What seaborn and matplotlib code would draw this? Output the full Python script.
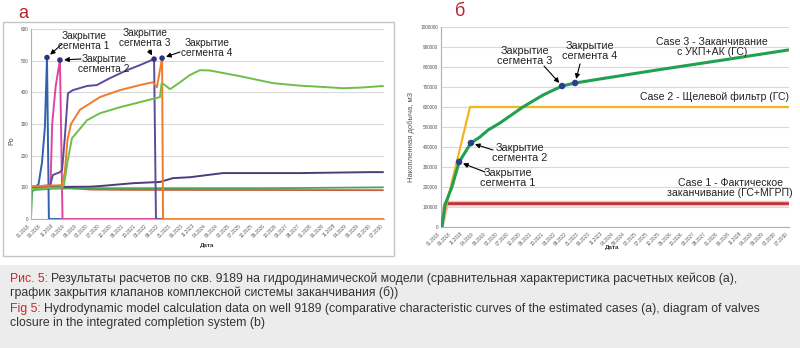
import matplotlib
matplotlib.use("Agg")
import matplotlib.pyplot as plt
from matplotlib.patches import Rectangle
import numpy as np
import pandas as pd
import seaborn as sns

sns.set_theme(style="white")
plt.rcParams['font.family'] = ['Liberation Sans', 'DejaVu Sans']

W, H = 800, 348

# ---- shared time axis: months since 01.2018 ----
x_tick_months = list(range(0, 151, 5))
x_tick_labels = ["01.2018", "06.2018", "11.2018", "04.2019", "09.2019", "02.2020",
                 "07.2020", "12.2020", "05.2021", "10.2021", "03.2022", "08.2022",
                 "01.2023", "06.2023", "11.2023", "04.2024", "09.2024", "02.2025",
                 "07.2025", "12.2025", "05.2026", "10.2026", "03.2027", "08.2027",
                 "01.2028", "06.2028", "11.2028", "04.2029", "09.2029", "02.2030",
                 "07.2030"]

# ---- panel а: pressure per segment ----
a_seg1_month = [0, 2.5, 3.2, 4.7, 5.9, 6.8, 7.6, 13.6]
a_seg1_value = [100, 105, 110, 180, 290, 510, 0, 0]

a_seg2_month = [0, 4, 8.3, 9.0, 10.5, 12.3, 13.4, 53.1]
a_seg2_value = [98, 104, 107, 300, 420, 502, 0, 0]

a_seg3_month = [0, 8.1, 9.3, 12.3, 13.2, 14.4, 15.7, 17.8, 23.8, 28.0, 33.6, 40.8,
                46.3, 52.3, 53.1, 56.1]
a_seg3_value = [100, 105, 139, 148, 155, 259, 397, 407, 420, 423, 445, 470,
                486, 505, 0, 0]

a_seg4_month = [0, 13.2, 14.4, 15.5, 17.0, 20.8, 29.3, 37.8, 46.3, 51.8, 53.5,
                55.7, 56.1, 150]
a_seg4_value = [103, 107, 150, 250, 300, 345, 385, 407, 423, 432, 416,
                508, 0, 0]

a_total_month = [0, 13.2, 14.0, 15.5, 17.4, 20.8, 23.8, 29.3, 37.8, 46.3, 52.7,
                 54.8, 55.5, 56.5, 59.1, 63.0, 67.6, 71.8, 76.0, 88.8, 102.8,
                 114.3, 124.1, 132.6, 140.0, 149.6]
a_total_value = [95, 100, 107, 180, 255, 285, 312, 334, 353, 369, 381,
                 385, 428, 425, 410, 430, 455, 470, 469, 451, 429,
                 421, 417, 413, 415, 420]

a_case_p_month = [0, 25, 29.3, 43.3, 54.8, 60.3, 67.6, 81.6, 114.3, 144.1, 149.6]
a_case_p_value = [101, 102, 104, 113, 117, 129, 132, 145, 145, 148, 148]

a_case_g_month = [0, 0.5, 2, 10, 30, 60, 100, 149.6]
a_case_g_value = [0, 88, 92, 96, 97, 97, 97, 100]

a_case_r_month = [0, 12, 25, 40, 149.6]
a_case_r_value = [100, 100, 93, 92, 91]

# ---- panel б: cumulative production ----
b_case1_month = [0, 2.2, 149.6]
b_case1_value = [0, 117000, 117000]

b_case2_month = [0, 12.5, 149.6]
b_case2_value = [0, 600000, 600000]

b_case3_month = [0, 0.4, 1.7, 4.7, 7.8, 12.9, 16.8, 20.3, 25.4, 35.3, 44.0,
                 52.2, 57.8, 68.5, 93.1, 121.6, 149.6]
b_case3_value = [0, 0, 110000, 200000, 325000, 420000, 450000, 485000, 520000,
                 600000, 660000, 705000, 720000, 740000, 785000, 835000, 885000]
b_close_idx = [4, 5, 11, 12]


def px(x, y):
    """top-left pixel -> figure fraction"""
    return x / W, 1 - y / H


def draw_line(ax, months, values, color, lw, z=2):
    df = pd.DataFrame({"month": months, "value": values})
    sns.lineplot(data=df, x="month", y="value", ax=ax, color=color, linewidth=lw,
                 estimator=None, sort=False, zorder=z, legend=False)


def style_axes(ax, yticks, ylabels):
    ax.set_xlim(0, 150)
    ax.set_ylim(yticks[0], yticks[-1])
    ax.set_yticks(yticks)
    ax.set_yticklabels(ylabels, fontsize=3.4, color="#555555")
    ax.set_xticks(x_tick_months)
    ax.set_xticklabels(x_tick_labels, rotation=45, ha="right", fontsize=3.3,
                       color="#555555")
    ax.tick_params(axis="x", length=2, width=0.5, color="#999999", pad=1)
    ax.tick_params(axis="y", length=0, pad=2)
    ax.grid(axis="y", color="#d9d9d9", linewidth=0.8)
    ax.grid(axis="x", visible=False)
    for s in ["top", "right"]:
        ax.spines[s].set_visible(False)
    for s in ["left", "bottom"]:
        ax.spines[s].set_color("#b0b0b0")
        ax.spines[s].set_linewidth(0.8)
    ax.set_xlabel("")
    ax.set_ylabel("")
    ax.set_facecolor("white")


fig = plt.figure(figsize=(W / 100, H / 100), dpi=100)
fig.patch.set_facecolor("white")

# frame around panel а
fig.patches.append(Rectangle(px(3, 256), 391 / W, 234 / H, transform=fig.transFigure,
                             fill=False, edgecolor="#c4c4c4", linewidth=1.0))
# caption band
fig.patches.append(Rectangle((0, 0), 1, (H - 265) / H, transform=fig.transFigure,
                             facecolor="#ececec", edgecolor="none", zorder=0))

# ---------------- panel а ----------------
l, b = px(31, 219)
axa = fig.add_axes([l, b, (384 - 31) / W, (219 - 29) / H])
draw_line(axa, a_case_r_month, a_case_r_value, "#cf5a3c", 1.3)
draw_line(axa, a_case_g_month, a_case_g_value, "#4fa657", 1.3)
draw_line(axa, a_case_p_month, a_case_p_value, "#4b3d7c", 1.4)
draw_line(axa, a_seg1_month, a_seg1_value, "#2f63ad", 1.4)
draw_line(axa, a_seg2_month, a_seg2_value, "#e0449f", 1.4)
draw_line(axa, a_seg3_month, a_seg3_value, "#5e4a98", 1.4)
draw_line(axa, a_seg4_month, a_seg4_value, "#f07b2c", 1.4)
draw_line(axa, a_total_month, a_total_value, "#6cbf47", 1.4)

a_peaks = []
for m, v in [(a_seg1_month, a_seg1_value), (a_seg2_month, a_seg2_value),
             (a_seg3_month, a_seg3_value), (a_seg4_month, a_seg4_value)]:
    i = int(np.argmax(v))
    a_peaks.append((m[i], v[i]))
sns.scatterplot(x=[p[0] for p in a_peaks], y=[p[1] for p in a_peaks], ax=axa,
                color="#2d3580", s=16, edgecolor="none", zorder=5, legend=False)
style_axes(axa, list(range(0, 601, 100)), [str(v) for v in range(0, 601, 100)])

# ---------------- panel б ----------------
l, b = px(441, 227)
axb = fig.add_axes([l, b, (789 - 441) / W, (227 - 27) / H])
draw_line(axb, b_case1_month, b_case1_value, "#f4b8b8", 4.0, z=2)
draw_line(axb, b_case1_month, b_case1_value, "#c0282d", 1.8, z=3)
draw_line(axb, b_case2_month, b_case2_value, "#f2b61c", 1.6, z=3)
draw_line(axb, b_case3_month, b_case3_value, "#22a051", 2.2, z=4)
sns.scatterplot(x=[b_case3_month[i] for i in b_close_idx],
                y=[b_case3_value[i] for i in b_close_idx], ax=axb,
                color="#2b3f8c", s=22, edgecolor="none", zorder=6, legend=False)
style_axes(axb, list(range(0, 1000001, 100000)),
           [str(v) for v in range(0, 1000001, 100000)])

# ---------------- labels ----------------
fig.text(*px(18, 13), "а", color="#b5232b", fontsize=13, ha="left", va="center")
fig.text(*px(455, 12), "б", color="#b5232b", fontsize=13, ha="left", va="center")

fig.text(*px(12, 141), "Po", rotation=90, fontsize=5, color="#444444",
         ha="center", va="center")
fig.text(*px(207, 246), "Дата", fontsize=4.5, fontweight="bold", color="#333333",
         ha="center", va="center")
fig.text(*px(411, 137), "Накопленная добыча, м3", rotation=90, fontsize=5.5,
         color="#555555", ha="center", va="center")
fig.text(*px(612, 247), "Дата", fontsize=4.5, fontweight="bold", color="#333333",
         ha="center", va="center")

arrow = dict(arrowstyle="-|>", color="black", lw=0.8, mutation_scale=7,
             shrinkA=0, shrinkB=3)


def note(ax, text, tx, ty, point, start, size):
    fig.text(*px(tx, ty), text, fontsize=size, color="#222222", ha="center",
             va="center", linespacing=1.1)
    ax.annotate("", xy=point, xycoords="data", xytext=px(*start),
                textcoords="figure fraction", arrowprops=arrow)


seg_text = ["Закрытие\nсегмента 1", "Закрытие\nсегмента 2",
            "Закрытие\nсегмента 3", "Закрытие\nсегмента 4"]

note(axa, seg_text[0], 84, 41, a_peaks[0], (62, 44), 7.3)
note(axa, seg_text[1], 104, 64, a_peaks[1], (81, 59), 7.3)
note(axa, seg_text[2], 145, 38, a_peaks[2], (149, 50), 7.3)
note(axa, seg_text[3], 207, 48, a_peaks[3], (180, 52), 7.3)

bpts = [(b_case3_month[i], b_case3_value[i]) for i in b_close_idx]
note(axb, seg_text[0], 508, 178, bpts[0], (485, 172), 7.8)
note(axb, seg_text[1], 520, 153, bpts[1], (493, 150), 7.8)
note(axb, seg_text[2], 525, 56, bpts[2], (544, 66), 7.8)
note(axb, seg_text[3], 590, 51, bpts[3], (580, 64), 7.8)

fig.text(*px(712, 47), "Case 3 - Заканчивание\nс УКП+АК (ГС)", fontsize=7.6,
         color="#222222", ha="center", va="center", linespacing=1.05)
fig.text(*px(715, 97), "Case 2 - Щелевой фильтр (ГС)", fontsize=7.6,
         color="#222222", ha="center", va="center")
fig.text(*px(730, 188), "Case 1 - Фактическое\nзаканчивание (ГС+МГРП)", fontsize=7.6,
         color="#222222", ha="center", va="center", linespacing=1.05)

# ---------------- caption ----------------
renderer = fig.canvas.get_renderer()
CAP = 8.8


def caption_line(y, red, rest):
    x0, y0 = px(10, y)
    t = fig.text(x0, y0, red, color="#c8252c", fontsize=CAP, ha="left", va="center")
    ext = t.get_window_extent(renderer=renderer)
    fig.text(ext.x1 / W, y0, rest, color="#333333", fontsize=CAP, ha="left",
             va="center")


caption_line(279, "Рис. 5: ", "Результаты расчетов по скв. 9189 на гидродинамической "
             "модели (сравнительная характеристика расчетных кейсов (а),")
fig.text(*px(10, 293), "график закрытия клапанов комплексной системы заканчивания (б))",
         color="#333333", fontsize=CAP, ha="left", va="center")
caption_line(309, "Fig 5: ", "Hydrodynamic model calculation data on well 9189 "
             "(comparative characteristic curves of the estimated cases (a), diagram of valves")
fig.text(*px(10, 323), "closure in the integrated completion system (b)",
         color="#333333", fontsize=CAP, ha="left", va="center")

fig.savefig("out.png", dpi=100)
